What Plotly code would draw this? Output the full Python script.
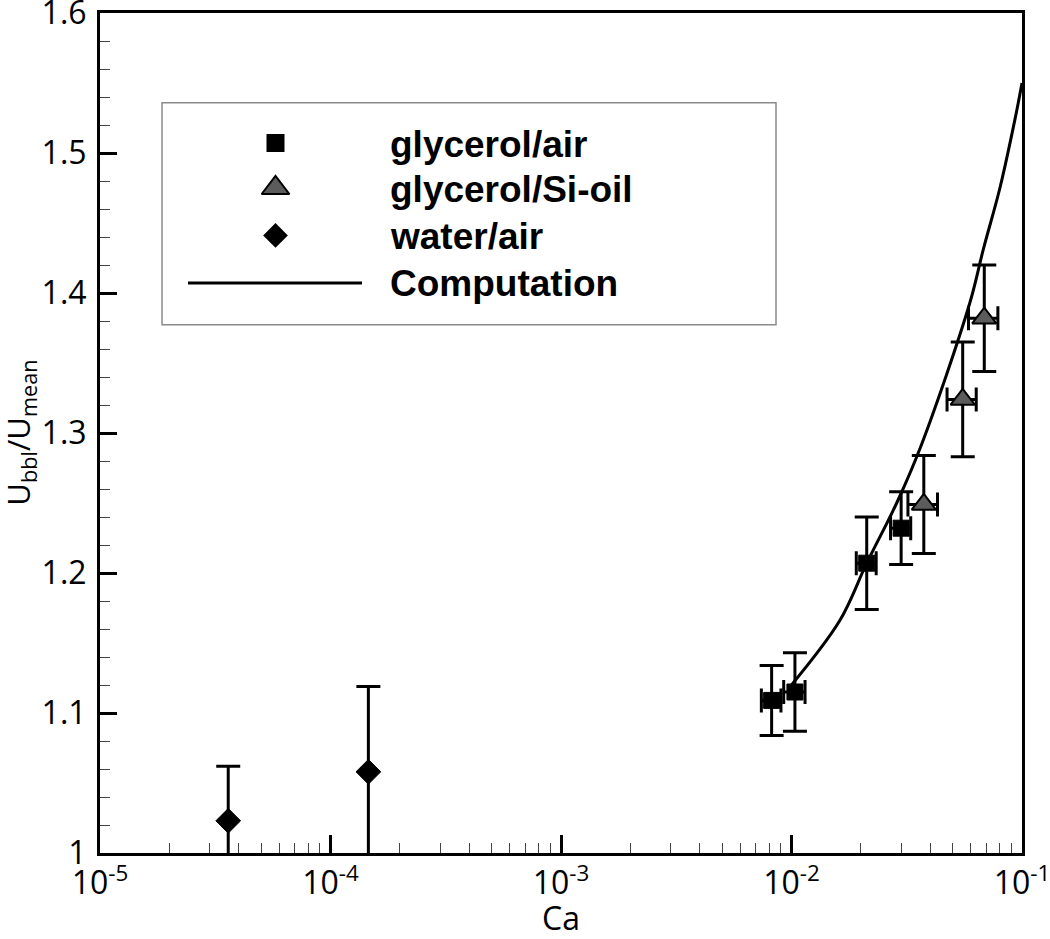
import plotly.graph_objects as go

# ---------------- data ----------------
ga_x = [8.2e-3, 1.035e-2, 2.12e-2, 2.99e-2]
ga_y = [1.109, 1.115, 1.207, 1.232]
ga_yerr = [0.025, 0.028, 0.033, 0.026]
ga_xerr = [0.0008, 0.0011, 0.0021, 0.0030]

gs_x = [3.75e-2, 5.53e-2, 6.86e-2]
gs_y = [1.249, 1.324, 1.382]
gs_yerr = [0.035, 0.041, 0.038]
gs_xerr = [0.0055, 0.0080, 0.0100]

wa_x = [3.6e-5, 1.46e-4]
wa_y = [1.023, 1.058]
wa_yerr = [0.039, 0.061]

comp_x = [0.0100, 0.0162, 0.0212, 0.0286, 0.0367, 0.0594, 0.0679, 0.0802, 0.0932, 0.1000]
comp_y = [1.120, 1.166, 1.207, 1.250, 1.292, 1.393, 1.431, 1.475, 1.524, 1.550]

x_tickvals = [1e-5, 1e-4, 1e-3, 1e-2, 1e-1]
x_ticktext = ["10<sup>-5</sup>", "10<sup>-4</sup>", "10<sup>-3</sup>", "10<sup>-2</sup>", "10<sup>-1</sup>"]
x_minor = [k * d for d in [1e-5, 1e-4, 1e-3, 1e-2] for k in range(2, 10)]
y_tickvals = [1.0, 1.1, 1.2, 1.3, 1.4, 1.5, 1.6]
y_ticktext = ["1", "1.1", "1.2", "1.3", "1.4", "1.5", "1.6"]

legend_labels = ["glycerol/air", "glycerol/Si-oil", "water/air", "Computation"]

# ---------------- figure ----------------
fig = go.Figure()

fig.add_trace(go.Scatter(
    x=comp_x, y=comp_y, mode="lines", line=dict(color="black", width=3, shape="spline"),
    showlegend=False, hoverinfo="skip"))

err_style = dict(color="black", thickness=3, width=12)

fig.add_trace(go.Scatter(
    x=wa_x, y=wa_y, mode="markers",
    marker=dict(symbol="diamond", size=19, color="black", line=dict(color="black", width=1)),
    error_y=dict(type="data", array=wa_yerr, **err_style),
    showlegend=False))

fig.add_trace(go.Scatter(
    x=ga_x, y=ga_y, mode="markers",
    marker=dict(symbol="square", size=16, color="black", line=dict(color="black", width=1)),
    error_y=dict(type="data", array=ga_yerr, **err_style),
    error_x=dict(type="data", array=ga_xerr, **err_style),
    showlegend=False))

fig.add_trace(go.Scatter(
    x=gs_x, y=gs_y, mode="markers",
    marker=dict(symbol="triangle-up", size=21, color="#5c5c5c", line=dict(color="black", width=2)),
    error_y=dict(type="data", array=gs_yerr, **err_style),
    error_x=dict(type="data", array=gs_xerr, **err_style),
    showlegend=False))

# ---------------- hand-drawn legend (overlay axes in paper-like units) ----------------
px = lambda v: (v - 100) / 922.0
py = lambda v: (853.3 - v) / 840.0

row_y = [py(143.3), py(188.3), py(235.7), py(283.3)]
sym_x = px(275.5)

fig.add_trace(go.Scatter(x=[sym_x], y=[row_y[0]], xaxis="x2", yaxis="y2", mode="markers",
                         marker=dict(symbol="square", size=18, color="black"),
                         showlegend=False, cliponaxis=False, hoverinfo="skip"))
fig.add_trace(go.Scatter(x=[sym_x], y=[row_y[1]], xaxis="x2", yaxis="y2", mode="markers",
                         marker=dict(symbol="triangle-up", size=24, color="#5c5c5c",
                                     line=dict(color="black", width=2)),
                         showlegend=False, cliponaxis=False, hoverinfo="skip"))
fig.add_trace(go.Scatter(x=[sym_x], y=[row_y[2]], xaxis="x2", yaxis="y2", mode="markers",
                         marker=dict(symbol="diamond", size=19, color="black"),
                         showlegend=False, cliponaxis=False, hoverinfo="skip"))
fig.add_trace(go.Scatter(x=[px(188), px(362)], y=[row_y[3], row_y[3]], xaxis="x2", yaxis="y2",
                         mode="lines", line=dict(color="black", width=3),
                         showlegend=False, cliponaxis=False, hoverinfo="skip"))

annotations = []
text_y = [py(145), py(190), py(237), py(284)]
for lab, yy in zip(legend_labels, text_y):
    annotations.append(dict(
        xref="paper", yref="paper", x=px(389), y=yy, xanchor="left", yanchor="middle",
        text="<b>%s</b>" % lab, showarrow=False, borderpad=0,
        font=dict(family="Liberation Sans, Arial, sans-serif", size=37, color="black")))

# axis titles
annotations.append(dict(
    xref="paper", yref="paper", x=0.5, y=py(918), xanchor="center", yanchor="middle",
    text="Ca", showarrow=False,
    font=dict(family="Open Sans, sans-serif", size=32, color="black")))
annotations.append(dict(
    xref="paper", yref="paper", x=px(20), y=py(433), xanchor="center", yanchor="middle",
    text="U<sub>bbl</sub>/U<sub>mean</sub>", textangle=-90, showarrow=False,
    font=dict(family="Open Sans, sans-serif", size=31, color="black")))

shapes = [dict(type="rect", xref="paper", yref="paper",
               x0=px(162), x1=px(776), y0=py(325), y1=py(103),
               line=dict(color="#8a8a8a", width=1.5), fillcolor="rgba(0,0,0,0)")]

tick_font = dict(family="Open Sans, sans-serif", size=32, color="black")

fig.update_layout(
    width=1050, height=939,
    margin=dict(l=100, r=28, t=13, b=86, autoexpand=False),
    paper_bgcolor="white", plot_bgcolor="white",
    showlegend=False,
    annotations=annotations,
    shapes=shapes,
    xaxis=dict(
        type="log", range=[-5, -1], automargin=False,
        tickvals=x_tickvals, ticktext=x_ticktext,
        ticks="inside", ticklen=18, tickwidth=3, tickcolor="black",
        minor=dict(tickvals=x_minor, ticks="inside", ticklen=10, tickwidth=1, tickcolor="#444"),
        showline=True, linewidth=3, linecolor="black", mirror=True,
        showgrid=False, zeroline=False,
        tickfont=tick_font, ticklabeloverflow="allow",
    ),
    yaxis=dict(
        range=[1, 1.6], automargin=False,
        tickvals=y_tickvals, ticktext=y_ticktext,
        ticks="inside", ticklen=17, tickwidth=3, tickcolor="black",
        minor=dict(dtick=0.02, tick0=1, ticks="inside", ticklen=10, tickwidth=1, tickcolor="#444"),
        showline=True, linewidth=3, linecolor="black", mirror=True,
        showgrid=False, zeroline=False,
        tickfont=tick_font, ticklabeloverflow="allow", ticklabelstandoff=4,
    ),
    xaxis2=dict(overlaying="x", range=[0, 1], visible=False, fixedrange=True),
    yaxis2=dict(overlaying="y", range=[0, 1], visible=False, fixedrange=True),
)

fig.write_html("out.html", config={"displayModeBar": False},
               post_script="document.body.style.margin='0px';")
